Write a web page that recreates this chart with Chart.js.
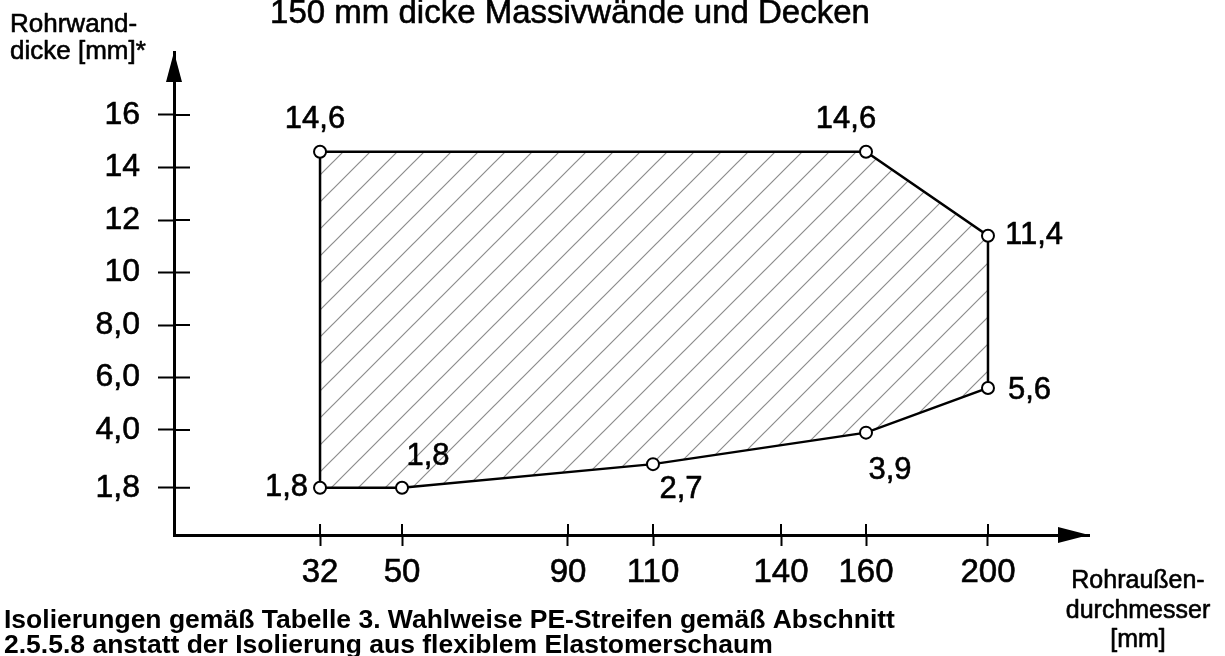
<!DOCTYPE html>
<html>
<head>
<meta charset="utf-8">
<script src="https://cdn.jsdelivr.net/npm/chart.js@4/dist/chart.umd.min.js"></script>
<style>
html, body { margin: 0; padding: 0; background: #fff; }
#wrap { width: 1225px; height: 656px; position: relative; }
</style>
</head>
<body>
<div id="wrap"><canvas id="chart"></canvas></div>
<script>
// polygon corners: Rohraußendurchmesser [mm] / Rohrwanddicke [mm]
var diameters = [32, 32, 160, 200, 200, 160, 110, 50];
var wallThickness = [1.8, 14.6, 14.6, 11.4, 5.6, 3.9, 2.7, 1.8];

var xTickValues = [32, 50, 90, 110, 140, 160, 200];
var yTickValues = [1.8, 4, 6, 8, 10, 12, 14, 16];
var yTickLabels = ['1,8', '4,0', '6,0', '8,0', '10', '12', '14', '16'];

var FONT = '"Liberation Sans", Arial, Helvetica, sans-serif';

// where each corner label sits relative to its point: dx, dy, align
var labelOffsets = [
    [-12, 0, 'right'],
    [-5, -32, 'center'],
    [-20, -32, 'center'],
    [17, 0, 'left'],
    [20, 2, 'left'],
    [24, 38, 'center'],
    [28, 25, 'center'],
    [26, -31, 'center']
];

// the drawing's x axis is not to scale, so map values piecewise
function interp(stops, v, from, to) {
    for (var i = 1; i < stops.length; i++) {
        var a = stops[i - 1], b = stops[i];
        if (v <= b[from] || i == stops.length - 1) {
            return a[to] + (v - a[from]) * (b[to] - a[to]) / (b[from] - a[from]);
        }
    }
}

class StopScale extends Chart.LinearScale {
    getPixelForValue(value) {
        return this.getPixelForDecimal(interp(this.options.stops, value, 0, 1));
    }
    getValueForPixel(pixel) {
        return interp(this.options.stops, this.getDecimalForPixel(pixel), 1, 0);
    }
}
StopScale.id = 'stops';
StopScale.defaults = {};
Chart.register(StopScale);

function hatch() {
    var s = 27;
    var c = document.createElement('canvas');
    c.width = s; c.height = s;
    var g = c.getContext('2d');
    g.strokeStyle = '#8c8c8c';
    g.lineWidth = 1.2;
    g.beginPath();
    g.moveTo(0, s); g.lineTo(s, 0);
    g.moveTo(-s / 4, s / 4); g.lineTo(s / 4, -s / 4);
    g.moveTo(s * 3 / 4, s * 5 / 4); g.lineTo(s * 5 / 4, s * 3 / 4);
    g.stroke();
    var p = g.createPattern(c, 'repeat');
    p.setTransform(new DOMMatrix().translate(9, 0));
    return p;
}

// scanned look: text a little heavier than plain Arial
function text(ctx, s, x, y) {
    ctx.fillText(s, x, y);
    ctx.strokeText(s, x, y);
}

var points = diameters.map(function (d, i) {
    return { x: d, y: wallThickness[i] };
});
points.push(points[0]); // close the outline

var radii = points.map(function (p, i) { return i < diameters.length ? 6 : 0; });

var decor = {
    id: 'decor',
    afterDraw: function (chart) {
        var ctx = chart.ctx, a = chart.chartArea;
        var xs = chart.scales.x, ys = chart.scales.y;
        ctx.save();
        ctx.strokeStyle = '#000';
        ctx.lineWidth = 2;
        // inner half of the tick marks
        xs.ticks.forEach(function (t) {
            var px = xs.getPixelForValue(t.value);
            ctx.beginPath(); ctx.moveTo(px, a.bottom); ctx.lineTo(px, a.bottom - 11); ctx.stroke();
        });
        ys.ticks.forEach(function (t) {
            var py = ys.getPixelForValue(t.value);
            ctx.beginPath(); ctx.moveTo(a.left, py); ctx.lineTo(a.left + 16, py); ctx.stroke();
        });
        // arrow heads
        ctx.fillStyle = '#000';
        ctx.beginPath();
        ctx.moveTo(a.left, a.top); ctx.lineTo(a.left - 8, a.top + 30); ctx.lineTo(a.left + 8, a.top + 30);
        ctx.closePath(); ctx.fill();
        ctx.beginPath();
        ctx.moveTo(a.right, a.bottom); ctx.lineTo(a.right - 31, a.bottom - 8); ctx.lineTo(a.right - 31, a.bottom + 8);
        ctx.closePath(); ctx.fill();

        ctx.lineWidth = 0.6;
        ctx.lineJoin = 'round';

        // corner labels
        var meta = chart.getDatasetMeta(0);
        ctx.font = '31px ' + FONT;
        ctx.textBaseline = 'middle';
        for (var i = 0; i < diameters.length; i++) {
            var el = meta.data[i], o = labelOffsets[i];
            ctx.textAlign = o[2];
            text(ctx, String(wallThickness[i]).replace('.', ','), el.x + o[0], el.y + o[1]);
        }

        // texts
        ctx.textBaseline = 'alphabetic';
        ctx.textAlign = 'center';
        ctx.font = '33px ' + FONT;
        text(ctx, '150 mm dicke Massivwände und Decken', 570, 23);

        ctx.textAlign = 'left';
        ctx.font = '26px ' + FONT;
        text(ctx, 'Rohrwand-', 10, 32);
        text(ctx, 'dicke [mm]*', 10, 59);

        ctx.textAlign = 'center';
        ctx.font = '25px ' + FONT;
        text(ctx, 'Rohraußen-', 1138, 588);
        text(ctx, 'durchmesser', 1138, 618);
        text(ctx, '[mm]', 1138, 647);

        ctx.textAlign = 'left';
        ctx.font = 'bold 26.5px ' + FONT;
        ctx.fillText('Isolierungen gemäß Tabelle 3. Wahlweise PE-Streifen gemäß Abschnitt', 4, 628);
        ctx.fillText('2.5.5.8 anstatt der Isolierung aus flexiblem Elastomerschaum', 4, 653);
        ctx.restore();
    }
};

new Chart(document.getElementById('chart'), {
    type: 'line',
    data: {
        datasets: [{
            data: points,
            borderColor: '#000',
            borderWidth: 2.5,
            backgroundColor: hatch(),
            fill: 'shape',
            tension: 0,
            pointRadius: radii,
            pointBorderWidth: 2,
            pointBorderColor: '#000',
            pointBackgroundColor: '#fff'
        }]
    },
    options: {
        responsive: true,
        maintainAspectRatio: false,
        animation: false,
        events: [],
        layout: { padding: { left: 0, top: 52, right: 136, bottom: 0 } },
        plugins: { legend: { display: false }, title: { display: false }, tooltip: { enabled: false } },
        scales: {
            x: {
                type: 'stops',
                min: 0,
                max: 230,
                stops: [[0, 0], [32, 0.1596], [50, 0.2492], [90, 0.4306], [110, 0.5235],
                        [140, 0.6634], [160, 0.7563], [200, 0.8896], [230, 1]],
                afterBuildTicks: function (scale) {
                    scale.ticks = xTickValues.map(function (v) { return { value: v }; });
                },
                afterFit: function (scale) { scale.height = 121; },
                grid: { drawOnChartArea: false, drawTicks: true, tickLength: 11, tickColor: '#000', tickWidth: 2 },
                border: { display: true, color: '#000', width: 3 },
                ticks: {
                    autoSkip: false,
                    maxRotation: 0,
                    padding: 7,
                    color: '#000',
                    textStrokeColor: '#000',
                    textStrokeWidth: 0.6,
                    font: { family: FONT, size: 33 },
                    callback: function (v) { return String(v); }
                }
            },
            y: {
                type: 'linear',
                min: 0,
                max: 18.4,
                afterBuildTicks: function (scale) {
                    scale.ticks = yTickValues.map(function (v) { return { value: v }; });
                },
                afterFit: function (scale) { scale.width = 174; },
                grid: { drawOnChartArea: false, drawTicks: true, tickLength: 16, tickColor: '#000', tickWidth: 2 },
                border: { display: true, color: '#000', width: 3 },
                ticks: {
                    autoSkip: false,
                    padding: 18,
                    color: '#000',
                    textStrokeColor: '#000',
                    textStrokeWidth: 0.6,
                    font: { family: FONT, size: 32 },
                    callback: function (v, i) { return yTickLabels[i]; }
                }
            }
        }
    },
    plugins: [decor]
});
</script>
</body>
</html>
